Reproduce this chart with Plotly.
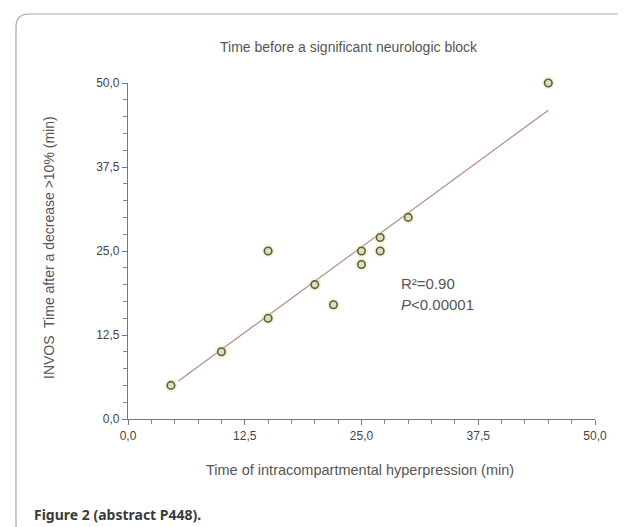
import numpy as np
import plotly.graph_objects as go

# Data
hyperpression_min = [4.6, 10, 15, 15, 20, 22, 25, 25, 27, 27, 30, 45]
invos_time_min = [5, 10, 15, 25, 20, 17, 25, 23, 27, 25, 30, 50]
tick_values = [0, 12.5, 25, 37.5, 50]

W, H = 626, 527
L, R, T, B = 120, 39, 75, 116
pw, ph = W - L - R, H - T - B

def px(xp):
    return (xp - L) / pw

def py(yp):
    return (H - B - yp) / ph

# regression line
slope, intercept = np.polyfit(hyperpression_min, invos_time_min, 1)
xfit = np.array([min(hyperpression_min) + 0.8, max(hyperpression_min)])
yfit = slope * xfit + intercept

fig = go.Figure()
fig.add_trace(go.Scatter(
    x=xfit.tolist(), y=yfit.tolist(), mode="lines",
    line=dict(color="#b58a8a", width=1.2), hoverinfo="skip", showlegend=False))
# soft halo behind markers
fig.add_trace(go.Scatter(
    x=hyperpression_min, y=invos_time_min, mode="markers",
    marker=dict(size=13, color="rgba(215,230,140,0.35)", line=dict(width=0)),
    cliponaxis=False, hoverinfo="skip", showlegend=False))
fig.add_trace(go.Scatter(
    x=hyperpression_min, y=invos_time_min, mode="markers",
    marker=dict(size=7.5, color="rgba(222,222,185,1)",
                line=dict(color="#5f5c48", width=1.6)),
    cliponaxis=False, showlegend=False))

axis_common = dict(
    range=[0, 50], tickmode="linear", tick0=0, dtick=12.5, tickformat=".1f",
    showgrid=False, zeroline=False, showline=True, linecolor="#777", linewidth=1.2,
    ticks="outside", ticklen=5, tickcolor="#777", tickwidth=1.2,
    tickfont=dict(family="Liberation Sans, Arial", size=12, color="#444"),
    minor=dict(dtick=2.5, ticks="outside", ticklen=4, tickcolor="#888", tickwidth=1.2),
)

fig.update_layout(
    width=W, height=H,
    margin=dict(l=L, r=R, t=T, b=B),
    paper_bgcolor="white", plot_bgcolor="white",
    separators=",.",
    xaxis=dict(**axis_common),
    yaxis=dict(**axis_common),
    showlegend=False,
)

# Frame
path = (f"M {px(640)},{py(6)} L {px(21)},{py(6)} Q {px(8)},{py(6)} {px(8)},{py(19)} "
        f"L {px(8)},{py(517)} Q {px(8)},{py(528)} {px(15)},{py(530)}")
fig.add_shape(type="path", xref="paper", yref="paper", path=path,
              line=dict(color="#a8a8a8", width=1.2), layer="below")

txt_font = dict(family="Liberation Sans, Arial", color="#555")
fig.add_annotation(xref="paper", yref="paper", x=px(341), y=py(39),
                   text="Time before a significant neurologic block", showarrow=False,
                   font=dict(size=14, **txt_font), xanchor="center", yanchor="middle")
fig.add_annotation(xref="paper", yref="paper", x=px(352), y=py(462),
                   text="Time of intracompartmental hyperpression (min)", showarrow=False,
                   font=dict(size=14.5, **txt_font), xanchor="center", yanchor="middle")
fig.add_annotation(xref="paper", yref="paper", x=px(41), y=py(240),
                   text="INVOS  Time after a decrease >10% (min)", showarrow=False,
                   textangle=-90,
                   font=dict(size=14, **txt_font), xanchor="center", yanchor="middle")
fig.add_annotation(xref="paper", yref="paper", x=px(391), y=py(275),
                   text="R\u00b2=0.90", showarrow=False,
                   font=dict(size=15, **txt_font), xanchor="left", yanchor="middle")
fig.add_annotation(xref="paper", yref="paper", x=px(391), y=py(296),
                   text="<i>P</i><0.00001", showarrow=False,
                   font=dict(size=15, **txt_font), xanchor="left", yanchor="middle")
fig.add_annotation(xref="paper", yref="paper", x=px(24), y=py(507),
                   text="<b>Figure 2 (abstract P448).</b>", showarrow=False,
                   font=dict(family="Noto Sans, Open Sans", size=14, color="#3a3a3a"),
                   xanchor="left", yanchor="middle")

fig.write_html("out.html")
